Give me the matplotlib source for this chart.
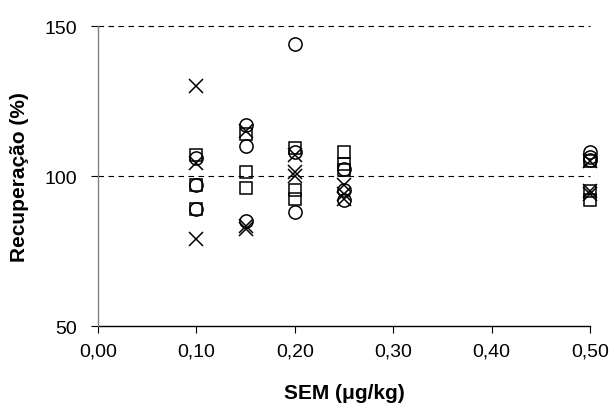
import matplotlib
matplotlib.use("Agg")
import matplotlib.pyplot as plt
from matplotlib.ticker import FuncFormatter

plt.rcParams["font.family"] = ["Liberation Sans", "DejaVu Sans"]

# concentration levels (ug/kg)
levels = [0.10, 0.15, 0.20, 0.25, 0.50]

# recoveries (%) per level, three replicates per series
rec_circle = [[106, 97, 89], [117, 110, 85], [144, 108, 88], [102.5, 95.5, 92], [108, 106.5, 105.5]]
rec_square = [[107, 97, 89], [114, 101.4, 96], [109.5, 95.5, 92.5], [108, 104, 102], [105, 95, 92]]
rec_cross = [[130, 104.5, 79], [115, 83.5, 82.5], [107, 101.5, 100], [97, 94, 92.5], [105, 95, 94]]


def _flatten(groups):
    xs, ys = [], []
    for lv, vals in zip(levels, groups):
        for v in vals:
            xs.append(lv)
            ys.append(v)
    return xs, ys


fig = plt.figure(figsize=(6.14, 4.10), dpi=100)
ax = fig.add_axes([0.1596, 0.2024, 0.8014, 0.7316])

for y in (100, 150):
    ax.axhline(y, color="black", lw=0.8, ls=(0, (5, 4)), zorder=1)

x, y = _flatten(rec_circle)
ax.plot(x, y, ls="none", marker="o", ms=9.5, mfc="none", mec="black", mew=1.1, zorder=3)
x, y = _flatten(rec_square)
ax.plot(x, y, ls="none", marker="s", ms=8.5, mfc="none", mec="black", mew=1.1, zorder=3)
x, y = _flatten(rec_cross)
ax.plot(x, y, ls="none", marker="x", ms=10, mec="black", mew=1.1, zorder=3)

ax.set_xlim(0, 0.5)
ax.set_ylim(50, 150)
ax.set_xticks([0, 0.1, 0.2, 0.3, 0.4, 0.5])
ax.set_yticks([50, 100, 150])
ax.xaxis.set_major_formatter(FuncFormatter(lambda v, p: f"{v:.2f}".replace(".", ",")))

for s in ("top", "right"):
    ax.spines[s].set_visible(False)
ax.spines["left"].set_color("#808080")
ax.spines["bottom"].set_color("black")
ax.spines["left"].set_linewidth(1.0)
ax.spines["bottom"].set_linewidth(1.0)
ax.spines["bottom"].set_zorder(0)
ax.tick_params(axis="both", direction="out", length=5, width=0.8, labelsize=14)
ax.tick_params(axis="y", pad=10)
ax.tick_params(axis="x", pad=7)

ax.set_xlabel("SEM (μg/kg)", fontsize=15, fontweight="bold", labelpad=17)
ax.set_ylabel("Recuperação (%)", fontsize=15, fontweight="bold", labelpad=11)

for m in ax.get_lines():
    m.set_clip_on(False)

fig.savefig("out.png", dpi=100)
